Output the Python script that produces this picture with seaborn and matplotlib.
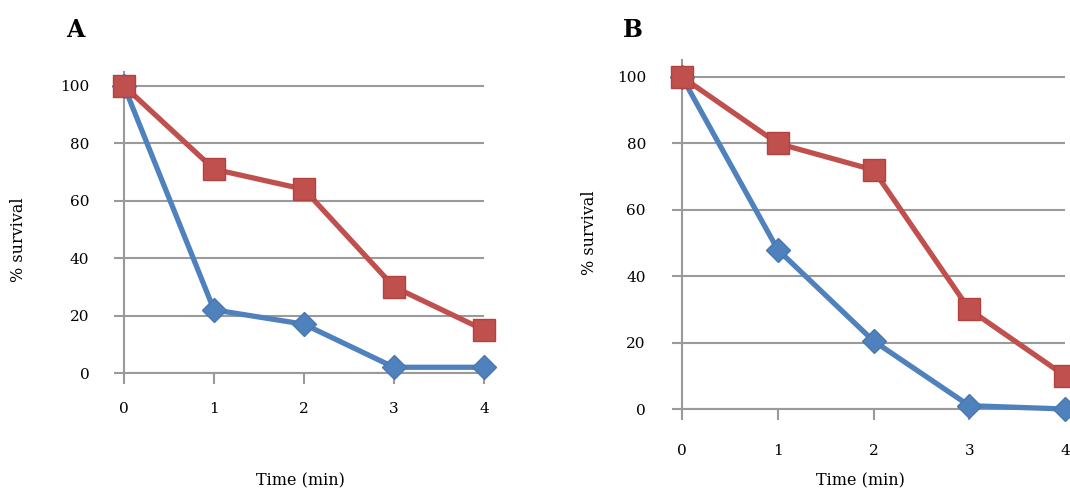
import numpy as np
import pandas as pd
import matplotlib
matplotlib.use("Agg")
import matplotlib.pyplot as plt
import seaborn as sns

# time points (min) and % survival
time_min = [0, 1, 2, 3, 4]
a_red = [100, 71, 64, 30, 15]
a_blue = [100, 22, 17, 2, 2]
b_red = [100, 80, 72, 30, 10]
b_blue = [100, 48, 20.5, 1, 0]
y_ticks = [0, 20, 40, 60, 80, 100]

sns.set_style("white")
plt.rcParams['font.family'] = ['DejaVu Serif']
plt.rcParams['text.color'] = "black"
plt.rcParams['axes.labelcolor'] = "black"
plt.rcParams['xtick.labelcolor'] = "black"
plt.rcParams['ytick.labelcolor'] = "black"

red = "#C0504D"
blue = "#4F81BD"
grid = "#9a9a9a"

fig = plt.figure(figsize=(10.7, 4.9), dpi=100)
W, H = 1070, 490


def panel(rect, red_vals, blue_vals, xlab_y, ylab_xy, xlab_x, tick_pad_x, tick_pad_y):
    left, bottom, right, top = rect
    ax = fig.add_axes([left / W, (H - bottom) / H, (right - left) / W, (bottom - top) / H])
    df = pd.DataFrame({"t": time_min, "red": red_vals, "blue": blue_vals})
    sns.lineplot(data=df, x="t", y="blue", ax=ax, color=blue, linewidth=3.8,
                 marker="D", markersize=12.5, markeredgecolor="#4a78b0",
                 markeredgewidth=1, clip_on=False, zorder=3)
    sns.lineplot(data=df, x="t", y="red", ax=ax, color=red, linewidth=3.8,
                 marker="s", markersize=16.5, markeredgecolor="#b3423f",
                 markeredgewidth=1, clip_on=False, zorder=4)
    ax.set_xlim(0, 4)
    ax.set_ylim(0, 105)
    ax.set_yticks(y_ticks)
    ax.set_xticks(time_min)
    ax.yaxis.grid(True, color=grid, linewidth=1.5)
    ax.xaxis.grid(False)
    for s in ["top", "right"]:
        ax.spines[s].set_visible(False)
    ax.spines["left"].set_color(grid)
    ax.spines["left"].set_linewidth(1.5)
    ax.spines["bottom"].set_color(grid)
    ax.spines["bottom"].set_linewidth(1.5)
    ax.tick_params(axis="y", direction="out", length=7, width=1.5, color=grid,
                   pad=tick_pad_y, labelsize=11, left=True)
    ax.tick_params(axis="x", direction="out", length=8, width=1.5, color=grid,
                   pad=tick_pad_x, labelsize=11, bottom=True)
    ax.set_xlabel("Time (min)", fontsize=11.5)
    ax.set_ylabel("% survival", fontsize=11.5)
    ax.xaxis.set_label_coords((xlab_x - left) / (right - left), (bottom - xlab_y) / (bottom - top))
    ax.yaxis.set_label_coords((ylab_xy[0] - left) / (right - left), (bottom - ylab_xy[1]) / (bottom - top))
    return ax


panel((124, 373, 484, 71.6), a_red, a_blue, 472, (27, 240), 300, 13, 18)
panel((682, 409, 1065, 60.4), b_red, b_blue, 472, (598, 233), 860, 17, 19)

fig.text(75 / W, 1 - 30 / H, "A", fontsize=17, fontweight="bold", ha="center", va="center")
fig.text(633 / W, 1 - 30 / H, "B", fontsize=17, fontweight="bold", ha="center", va="center")

fig.savefig("out.png", dpi=100)
